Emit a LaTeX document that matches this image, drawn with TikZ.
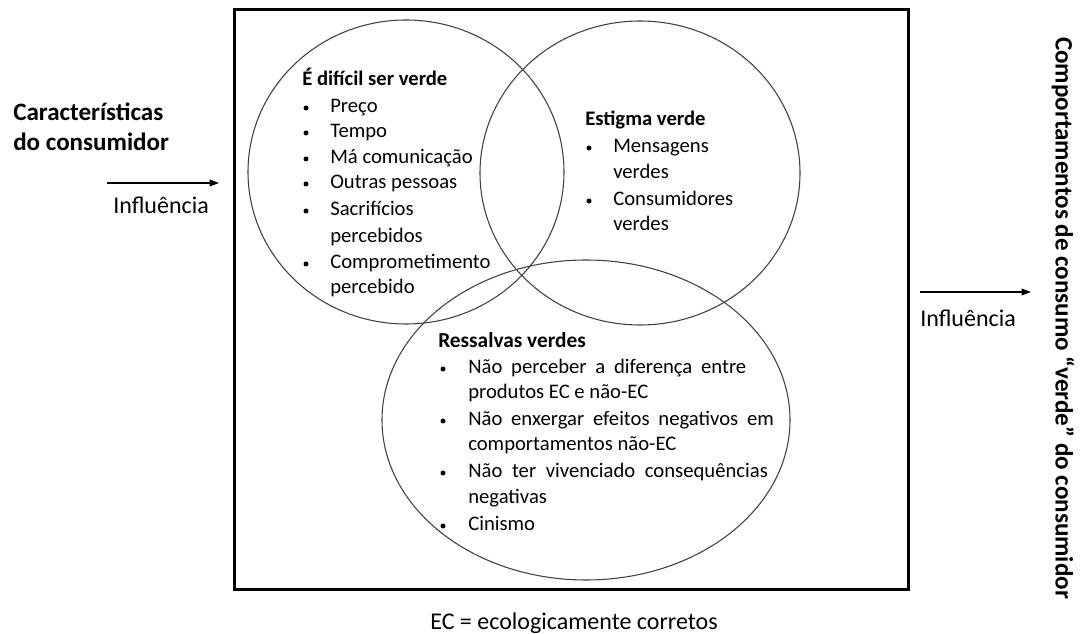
\documentclass[tikz,border=0pt]{standalone}
\usepackage{fontspec}
\setmainfont{Carlito}
\usetikzlibrary{arrows.meta}
\newcommand\widesp[1]{\spaceskip #1\relax}
\begin{document}
\begin{tikzpicture}[x=0.75pt,y=-0.75pt,
  txt/.style={inner sep=0pt, anchor=base west, font=\fontsize{15.5}{18}\selectfont},
  ttl/.style={txt, font=\fontsize{15.5}{18}\selectfont\bfseries},
  outtxt/.style={txt, font=\fontsize{18}{21}\selectfont},
  big/.style={txt, font=\fontsize{18.8}{22}\selectfont\bfseries},
  bul/.style={circle, fill=black, inner sep=0pt, minimum size=5*0.75pt},
  venn/.style={draw=black!75, line width=0.8pt},
  arr/.style={-{Triangle[length=7pt,width=5pt]}, line width=0.9pt}
]
\useasboundingbox (0,0) rectangle (1086,634);
% frame
\node[draw, line width=2.2pt, minimum width=674*0.75pt, minimum height=580*0.75pt, inner sep=0pt, anchor=north west] (frame) at (233,8) {};
% circles
\draw[venn] (406,172) ellipse [x radius=158, y radius=152];
\draw[venn] (640,173) ellipse [x radius=160, y radius=152];
\draw[venn] (586,420) ellipse [x radius=204, y radius=160];
% left group
\node[ttl] (t1) at (302,86) {É difícil ser verde};
\foreach \y/\t [count=\i] in {107/Preço,132/Tempo,158/Má comunicação,183/Outras pessoas,210/Sacrifícios,237/percebidos,263/Comprometimento,288/percebido}{
  \node[txt] (a\i) at (330,\y+6) {\t};
}
\foreach \y [count=\i] in {107,132,158,183,210,263}{
  \node[bul] (ab\i) at (306,\y+1) {};
}
% right group
\node[ttl] (t2) at (585,126) {Estigma verde};
\foreach \y/\t [count=\i] in {147/Mensagens,173/verdes,200/Consumidores,225/verdes}{
  \node[txt] (b\i) at (613,\y+6) {\t};
}
\foreach \y [count=\i] in {147,200}{
  \node[bul] (bb\i) at (589,\y+1) {};
}
% bottom group
\node[ttl, font=\fontsize{16}{18}\selectfont\bfseries] (t3) at (438,348) {Ressalvas verdes};
\node[txt] (c1) at (468,374) {\widesp{6.6pt}Não perceber a diferença entre};
\node[txt] (c2) at (468,399) {produtos EC e não-EC};
\node[txt] (c3) at (468,426) {\widesp{6.6pt}Não enxergar efeitos negativos em};
\node[txt] (c4) at (468,451) {comportamentos não-EC};
\node[txt] (c5) at (468,478) {\widesp{7.2pt}Não ter vivenciado consequências};
\node[txt] (c6) at (468,504) {negativas};
\node[txt] (c7) at (468,531) {Cinismo};
\foreach \y [count=\i] in {368,420,472,525}{
  \node[bul] (cb\i) at (443,\y+1) {};
}
% footer
\node[outtxt, anchor=base] (ec) at (574,629) {EC = ecologicamente corretos};
% left side
\node[big] (car1) at (13,121) {Características};
\node[big] (car2) at (13,151) {do consumidor};
\coordinate (la1) at (107,183);
\coordinate (la2) at (219,183);
\draw[arr] (la1) -- (la2);
\node[outtxt] (inf1) at (113,214) {Influência};
% right side
\coordinate (ra1) at (920,292);
\coordinate (ra2) at (1031,292);
\draw[arr] (ra1) -- (ra2);
\node[outtxt] (inf2) at (920,327) {Influência};
\node[big, anchor=center, rotate=-90] (comp) at (1063,318) {Comportamentos de consumo “verde” do consumidor};
\end{tikzpicture}
\end{document}
